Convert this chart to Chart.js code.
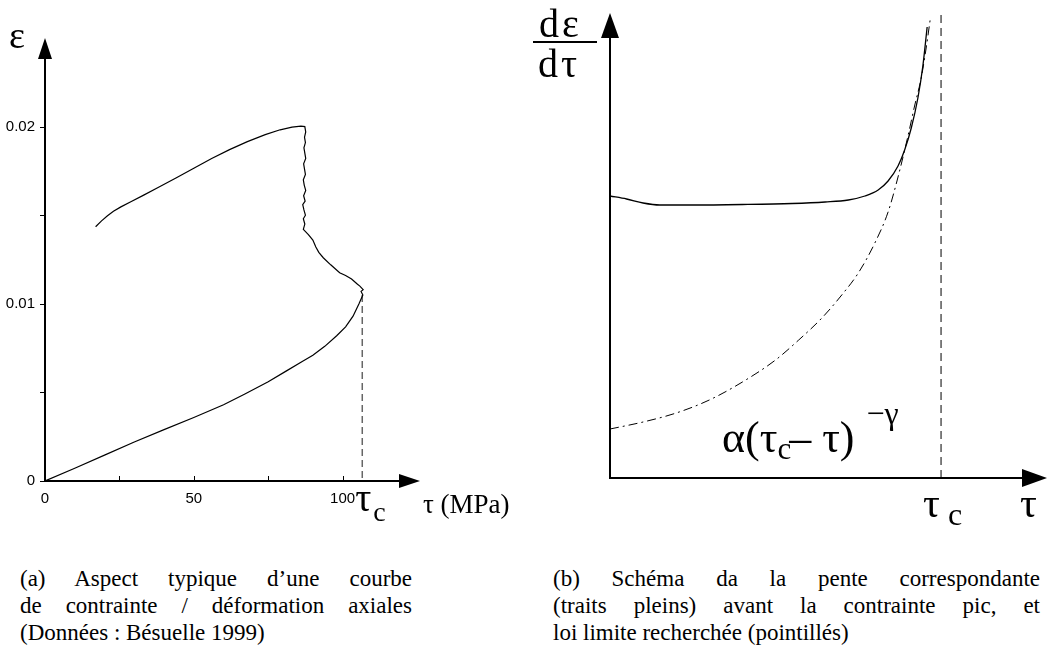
<!DOCTYPE html>
<html>
<head>
<meta charset="utf-8">
<script src="https://cdn.jsdelivr.net/npm/chart.js@4.4.0/dist/chart.umd.min.js"></script>
<style>
  body { margin: 0; width: 1047px; height: 664px; background: #fff; position: relative; overflow: hidden; }
  canvas { position: absolute; top: 0; }
  #stressStrain { left: 0; }
  #slope { left: 525px; }
  .cap { position: absolute; font-family: "Liberation Serif", "Times New Roman", serif; font-size: 23px; line-height: 27px; color: #000; }
  .cap .j { text-align: justify; text-align-last: justify; }
</style>
</head>
<body>
<canvas id="stressStrain" width="525" height="540"></canvas>
<canvas id="slope" width="522" height="540"></canvas>

<div class="cap" style="left:20px; top:565px; width:392px">
  <div class="j">(a) Aspect typique d’une courbe</div>
  <div class="j">de contrainte / déformation axiales</div>
  <div>(Données : Bésuelle 1999)</div>
</div>
<div class="cap" style="left:553px; top:565px; width:487px">
  <div class="j">(b) Schéma da la pente correspondante</div>
  <div class="j">(traits pleins) avant la contrainte pic, et</div>
  <div>loi limite recherchée (pointillés)</div>
</div>

<script>
// --- (a) stress / axial strain curve (MPa, strain) ---
// loading branch up to the peak, then back towards lower stress
const loadTau = [0, 10, 20, 30, 40, 50, 60, 67, 75, 81, 86, 90, 94, 98, 101, 103.5, 105.5, 106.8,
                 106.2, 106.9, 105.8, 105, 103, 101, 99, 96, 93.5, 92, 91, 90, 88.5, 86.8];
const loadEps = [0, 0.00072, 0.00146, 0.0022, 0.0029, 0.00358, 0.0043, 0.0049, 0.0056, 0.0062, 0.0067,
                 0.0071, 0.0076, 0.0082, 0.0087, 0.0093, 0.0100, 0.0105,
                 0.0107, 0.0108, 0.0110, 0.0111, 0.0114, 0.0116, 0.01175, 0.0122, 0.0126, 0.0129,
                 0.0132, 0.0136, 0.0139, 0.0142];
// noisy nearly vertical part
const jumpTau = [87.3, 86.8, 87.5, 87.0, 86.6, 87.4, 86.9, 87.6, 87.1, 86.8, 87.5, 87.2, 86.9, 87.6,
                 87.3, 87.0, 87.5, 87.2, 87.6, 87.3];
const jumpEps = [0.0145, 0.0148, 0.0150, 0.0153, 0.0156, 0.0158, 0.0161, 0.0164, 0.0167, 0.0170,
                 0.0173, 0.0176, 0.0179, 0.0182, 0.0185, 0.0188, 0.0191, 0.0194, 0.0197, 0.0200];
// unloading branch
const unloadTau = [86, 83, 79, 74, 68, 62, 56, 50, 44, 38, 33, 29, 25.5, 23, 21, 19, 17];
const unloadEps = [0.02003, 0.01997, 0.01982, 0.01955, 0.01915, 0.01870, 0.01820, 0.01765, 0.01710,
                   0.01656, 0.01612, 0.01577, 0.01547, 0.01522, 0.01497, 0.01468, 0.01435];

const tauPeak = 106.6;
const epsPeak = 0.0105;
const tauTicks = [0, 25, 50, 75, 100];
const tauLabels = [0, 50, 100];
const epsTicks = [0, 0.005, 0.01, 0.015, 0.02];
const epsLabels = [0, 0.01, 0.02];

// --- (b) sketch of the slope d(eps)/d(tau), tau in units of tau_c ---
const slopeTau = [0, 0.05, 0.10, 0.15, 0.25, 0.40, 0.55, 0.65, 0.72, 0.77, 0.81, 0.84, 0.87, 0.89,
                  0.91, 0.93, 0.945, 0.958];
const slopeVal = [2.82, 2.79, 2.75, 2.73, 2.73, 2.735, 2.745, 2.76, 2.78, 2.82, 2.88, 2.97, 3.12,
                  3.28, 3.50, 3.80, 4.12, 4.51];
const lawTau = [0, 0.1, 0.2, 0.3, 0.4, 0.5, 0.57, 0.64, 0.70, 0.75, 0.80, 0.84, 0.87, 0.90, 0.92,
                0.94, 0.955, 0.967];
const lawVal = [0.49, 0.56, 0.65, 0.78, 0.96, 1.18, 1.38, 1.60, 1.83, 2.05, 2.35, 2.66, 3.01, 3.42,
                3.72, 4.00, 4.30, 4.58];
const tauCrit = 1;

const pts = (xs, ys) => xs.map((x, i) => ({ x: x, y: ys[i] }));
const serif = '"Liberation Serif", "Times New Roman", serif';

// axes with arrow heads, drawn by hand
function drawAxes(chart, opts) {
  const { ctx, chartArea: a } = chart;
  ctx.save();
  ctx.strokeStyle = '#000';
  ctx.fillStyle = '#000';
  ctx.lineWidth = 2;
  ctx.beginPath();
  ctx.moveTo(a.left, a.top + opts.head);
  ctx.lineTo(a.left, a.bottom);
  ctx.lineTo(a.right - opts.head, a.bottom);
  ctx.stroke();
  ctx.beginPath();
  ctx.moveTo(a.left, a.top);
  ctx.lineTo(a.left - opts.half, a.top + opts.head);
  ctx.lineTo(a.left + opts.half, a.top + opts.head);
  ctx.closePath();
  ctx.fill();
  ctx.beginPath();
  ctx.moveTo(a.right, a.bottom);
  ctx.lineTo(a.right - opts.head, a.bottom - opts.half);
  ctx.lineTo(a.right - opts.head, a.bottom + opts.half);
  ctx.closePath();
  ctx.fill();
  ctx.restore();
}

const stressPlugin = {
  id: 'stressDecor',
  afterDatasetsDraw(chart) {
    const { ctx, scales: { x, y }, chartArea: a } = chart;
    drawAxes(chart, { head: 21, half: 7 });
    ctx.save();
    ctx.strokeStyle = '#000';
    ctx.lineWidth = 1;
    tauTicks.forEach(v => {
      const px = Math.round(x.getPixelForValue(v)) + 0.5;
      ctx.beginPath(); ctx.moveTo(px, a.bottom); ctx.lineTo(px, a.bottom - 5); ctx.stroke();
    });
    epsTicks.forEach(v => {
      const py = Math.round(y.getPixelForValue(v)) + 0.5;
      ctx.beginPath(); ctx.moveTo(a.left - 5, py); ctx.lineTo(a.left, py); ctx.stroke();
    });
    ctx.fillStyle = '#000';
    ctx.font = '38px ' + serif;
    ctx.fillText('ε', 9, 48);
    const xc = x.getPixelForValue(tauPeak);
    ctx.font = '40px ' + serif;
    ctx.fillText('τ', xc - 7, 511);
    ctx.font = '28px ' + serif;
    ctx.fillText('c', xc + 11, 521);
    ctx.font = '27px ' + serif;
    ctx.fillText('τ (MPa)', 423, 513);
    ctx.restore();
  }
};

const slopePlugin = {
  id: 'slopeDecor',
  afterDatasetsDraw(chart) {
    const { ctx, scales: { x } } = chart;
    drawAxes(chart, { head: 25, half: 9 });
    ctx.save();
    ctx.fillStyle = '#000';
    ctx.strokeStyle = '#000';
    // d(eps)/d(tau) as a fraction
    ctx.font = '40px ' + serif;
    ctx.fillText('d', 14, 37);
    ctx.fillText('ε', 37, 37);
    ctx.fillText('d', 13, 77);
    ctx.fillText('τ', 36, 77);
    ctx.lineWidth = 2;
    ctx.beginPath(); ctx.moveTo(8, 42); ctx.lineTo(72, 42); ctx.stroke();
    // limit law label
    let cx = 197;
    const base = 452;
    ctx.font = '44px ' + serif;
    ctx.fillText('α(τ', cx, base);
    cx += ctx.measureText('α(τ').width;
    ctx.font = '31px ' + serif;
    ctx.fillText('c', cx, base + 7);
    cx += ctx.measureText('c').width - 2;
    ctx.font = '44px ' + serif;
    ctx.fillText('– τ)', cx, base);
    cx += ctx.measureText('– τ)').width + 12;
    ctx.font = '32px ' + serif;
    ctx.fillText('−γ', cx, base - 28);
    // tau_c and tau under the axis
    const xc = x.getPixelForValue(tauCrit);
    ctx.font = '42px ' + serif;
    ctx.fillText('τ', xc - 18, 517);
    ctx.font = '32px ' + serif;
    ctx.fillText('c', xc + 7, 525);
    ctx.font = '42px ' + serif;
    ctx.fillText('τ', 495, 517);
    ctx.restore();
  }
};

new Chart(document.getElementById('stressStrain'), {
  type: 'line',
  data: {
    datasets: [{
      data: pts(loadTau.concat(jumpTau, unloadTau), loadEps.concat(jumpEps, unloadEps)),
      borderColor: '#000',
      borderWidth: 1.2,
      pointRadius: 0,
      tension: 0
    }, {
      data: pts([tauPeak, tauPeak], [epsPeak, 0]),
      borderColor: '#666',
      borderWidth: 1.5,
      borderDash: [7, 4],
      pointRadius: 0
    }]
  },
  options: {
    responsive: false,
    animation: false,
    events: [],
    layout: { padding: { top: 38, right: 105, left: 0, bottom: 0 } },
    plugins: { legend: { display: false }, tooltip: { enabled: false } },
    scales: {
      x: {
        type: 'linear', min: 0, max: 126,
        grid: { display: false, drawTicks: false },
        border: { display: false },
        afterBuildTicks: s => { s.ticks = tauTicks.map(v => ({ value: v })); },
        afterFit: s => { s.height = 59; },
        ticks: {
          padding: 9,
          color: '#000',
          font: { family: '"Liberation Sans Narrow", "Liberation Sans", Arial, sans-serif', size: 15 },
          callback: v => tauLabels.includes(v) ? String(v) : ''
        }
      },
      y: {
        type: 'linear', min: 0, max: 0.025,
        grid: { display: false, drawTicks: false },
        border: { display: false },
        afterBuildTicks: s => { s.ticks = epsTicks.map(v => ({ value: v })); },
        afterFit: s => { s.width = 45; },
        ticks: {
          padding: 10,
          color: '#000',
          font: { family: '"Liberation Sans Narrow", "Liberation Sans", Arial, sans-serif', size: 15 },
          callback: v => epsLabels.includes(v) ? String(v) : ''
        }
      }
    }
  },
  plugins: [stressPlugin]
});

new Chart(document.getElementById('slope'), {
  type: 'line',
  data: {
    datasets: [{
      data: pts(slopeTau, slopeVal),
      borderColor: '#000',
      borderWidth: 1.3,
      pointRadius: 0,
      cubicInterpolationMode: 'monotone'
    }, {
      data: pts(lawTau, lawVal),
      borderColor: '#000',
      borderWidth: 1,
      borderDash: [9, 4, 2, 4],
      pointRadius: 0,
      cubicInterpolationMode: 'monotone'
    }, {
      data: pts([tauCrit, tauCrit], [0, 4.65]),
      borderColor: '#555',
      borderWidth: 1.5,
      borderDash: [8, 5],
      pointRadius: 0
    }]
  },
  options: {
    responsive: false,
    animation: false,
    events: [],
    layout: { padding: { top: 13, right: 0, left: 0, bottom: 0 } },
    plugins: { legend: { display: false }, tooltip: { enabled: false } },
    scales: {
      x: {
        type: 'linear', min: 0, max: 1.32,
        grid: { display: false, drawTicks: false },
        border: { display: false },
        ticks: { display: false },
        afterFit: s => { s.height = 62; }
      },
      y: {
        type: 'linear', min: 0, max: 4.65,
        grid: { display: false, drawTicks: false },
        border: { display: false },
        ticks: { display: false },
        afterFit: s => { s.width = 85; }
      }
    }
  },
  plugins: [slopePlugin]
});
</script>
</body>
</html>
